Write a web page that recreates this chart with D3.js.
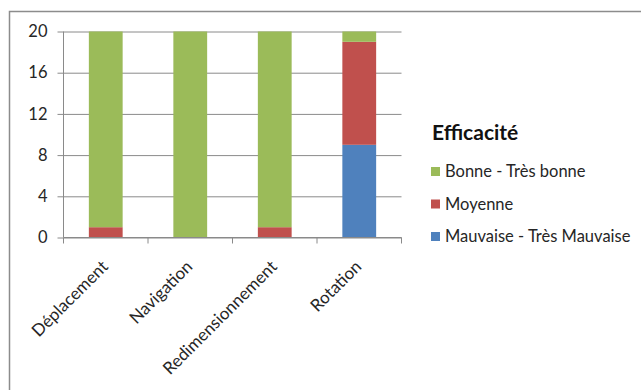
<!DOCTYPE html>
<html>
<head>
<meta charset="utf-8">
<script src="https://cdn.jsdelivr.net/npm/d3@7"></script>
<style>
  html, body { margin: 0; padding: 0; background: #fff; }
  svg { display: block; font-family: Lato, "Open Sans", sans-serif; }
</style>
</head>
<body>
<svg id="chart" width="641" height="390"></svg>
<script>
// Tasks evaluated and the number of answers per efficiency level
const categories = ["Déplacement", "Navigation", "Redimensionnement", "Rotation"];
const mauvaise = [0, 0, 0, 9];
const moyenne = [1, 0, 1, 10];
const bonne = [19, 20, 19, 1];
const yTicks = [0, 4, 8, 12, 16, 20];

const seriesNames = ["Mauvaise - Très Mauvaise", "Moyenne", "Bonne - Très bonne"];
const seriesColors = ["#4F81BD", "#C0504D", "#9BBB59"];
const legendTitle = "Efficacité";

const rows = categories.map((c, i) => ({
  cat: c,
  [seriesNames[0]]: mauvaise[i],
  [seriesNames[1]]: moyenne[i],
  [seriesNames[2]]: bonne[i]
}));
const stacked = d3.stack().keys(seriesNames)(rows);

const svg = d3.select("#chart");
const textColor = "#262626";
const labelSize = 16.5;

// outer frame
svg.append("rect")
  .attr("x", 9.5).attr("y", 11.5)
  .attr("width", 700).attr("height", 500)
  .attr("fill", "none").attr("stroke", "#8c8c8c").attr("stroke-width", 1.5);

const plotLeft = 63.5, plotRight = 401.5, plotTop = 31.5, plotBottom = 237.5;

const x = d3.scaleBand().domain(categories).range([plotLeft, plotRight]).paddingInner(0.6).paddingOuter(0.3);
const xBand = d3.scaleBand().domain(categories).range([plotLeft, plotRight]);
const y = d3.scaleLinear().domain([0, 20]).range([plotBottom, plotTop]);

// horizontal gridlines with left tick marks
const yAxis = svg.append("g")
  .attr("transform", `translate(${plotLeft},0)`)
  .call(d3.axisLeft(y).tickValues(yTicks).tickSize(6).tickPadding(10).tickFormat(d3.format("d")));
yAxis.select(".domain").remove();
yAxis.selectAll(".tick line").attr("stroke", "#8a8a8a");
yAxis.selectAll(".tick text").attr("font-size", labelSize).attr("fill", textColor).attr("font-family", "Lato, sans-serif");
yAxis.selectAll(".tick").append("line")
  .attr("x1", 0).attr("x2", plotRight - plotLeft)
  .attr("stroke", "#8a8a8a");

// vertical axis line
svg.append("line")
  .attr("x1", plotLeft).attr("x2", plotLeft).attr("y1", plotTop).attr("y2", plotBottom)
  .attr("stroke", "#8a8a8a");

// bars
svg.append("g").selectAll("g")
  .data(stacked).join("g")
  .attr("fill", (d, i) => seriesColors[i])
  .selectAll("rect")
  .data(d => d).join("rect")
  .attr("x", d => x(d.data.cat))
  .attr("width", x.bandwidth())
  .attr("y", d => y(d[1]))
  .attr("height", d => y(d[0]) - y(d[1]));

// category axis: tick marks at band boundaries
const boundaries = categories.map(c => xBand(c)).concat([plotRight]);
svg.append("line")
  .attr("x1", plotLeft).attr("x2", plotRight).attr("y1", plotBottom).attr("y2", plotBottom)
  .attr("stroke", "#8a8a8a");
svg.append("g").selectAll("line")
  .data(boundaries).join("line")
  .attr("x1", d => d).attr("x2", d => d)
  .attr("y1", plotBottom).attr("y2", plotBottom + 6)
  .attr("stroke", "#8a8a8a");

// rotated category labels
svg.append("g").selectAll("text")
  .data(categories).join("text")
  .attr("transform", d => `translate(${xBand(d) + xBand.bandwidth() / 2 - 1},${plotBottom + 26}) rotate(-45)`)
  .attr("text-anchor", "end")
  .attr("dy", "0.35em")
  .attr("font-size", 17)
  .attr("fill", textColor)
  .text(d => d);

// legend
const legend = svg.append("g");
legend.append("text")
  .attr("x", 432).attr("y", 140)
  .attr("font-size", 21).attr("font-weight", "bold").attr("fill", "#111")
  .text(legendTitle);

const legendOrder = [2, 1, 0];
const legendItems = legend.selectAll("g.item")
  .data(legendOrder).join("g")
  .attr("class", "item")
  .attr("transform", (d, i) => `translate(431,${171.5 + i * 32.5})`);
legendItems.append("rect")
  .attr("x", 0).attr("y", -4.5).attr("width", 9).attr("height", 9)
  .attr("fill", d => seriesColors[d]);
legendItems.append("text")
  .attr("x", 14).attr("dy", "0.35em")
  .attr("font-size", labelSize).attr("fill", textColor)
  .text(d => seriesNames[d]);
</script>
</body>
</html>
